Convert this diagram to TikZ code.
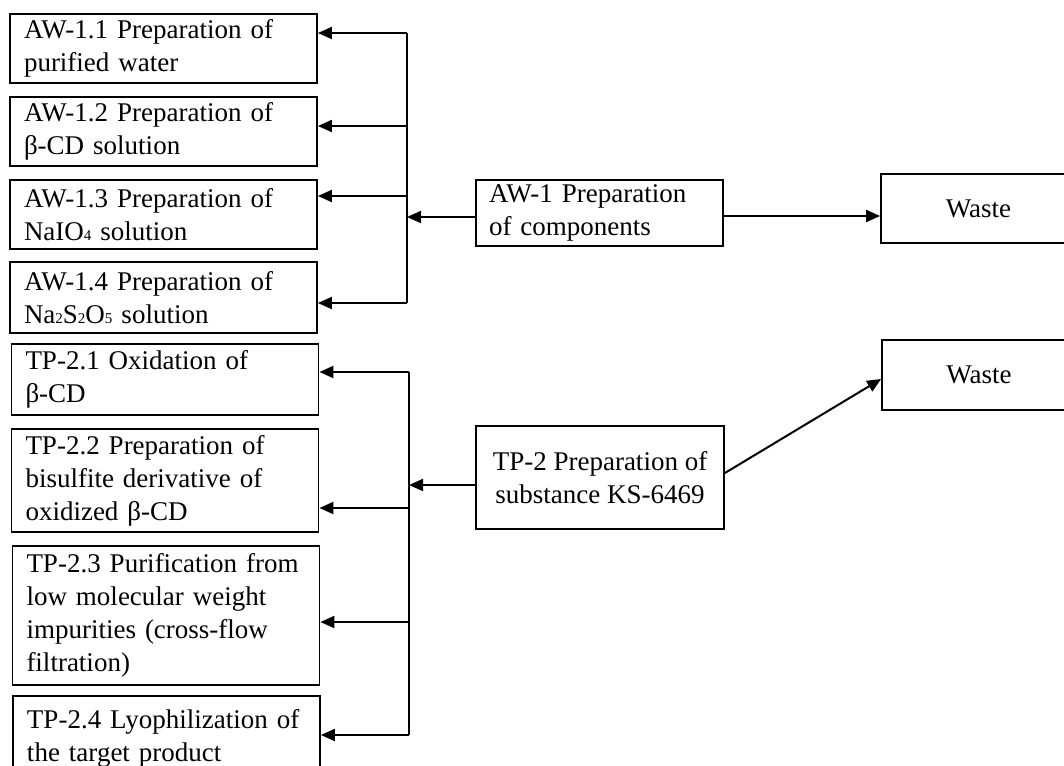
\documentclass[tikz,border=0pt]{standalone}
\usepackage{fontspec}
\setmainfont{Liberation Serif}
\usetikzlibrary{arrows.meta,calc}
\newcommand{\sbs}[1]{{\fontsize{15}{15}\selectfont #1}}
\begin{document}
\begin{tikzpicture}[x=1pt,y=-1pt,
  every node/.style={font=\fontsize{27}{33}\selectfont},
  lbox/.style={draw,line width=1.8pt,rectangle,inner xsep=14pt,inner ysep=2pt,text width=279pt,align=left},
  cbox/.style={draw,line width=1.8pt,rectangle,inner sep=2pt},
  arr/.style={line width=2pt,-{Triangle[length=14pt,width=12pt]}},
  ln/.style={line width=2pt}]
\useasboundingbox (0,0) rectangle (1064,765);
\clip (0,0) rectangle (1064,765);
\fill[white] (0,0) rectangle (1064,765);
% left boxes
\node[lbox,minimum height=69pt] (a11) at (163.5,48.5) {AW-1.1 Preparation of\\purified water};
\node[lbox,minimum height=69pt] (a12) at (163.5,131.5) {AW-1.2 Preparation of\\β-CD solution};
\node[lbox,minimum height=69pt] (a13) at (163.5,214.5) {AW-1.3 Preparation of\\NaIO\sbs{4} solution};
\node[lbox,minimum height=71pt] (a14) at (163.5,297.5) {AW-1.4 Preparation of\\Na\sbs{2}S\sbs{2}O\sbs{5} solution};
\node[lbox,minimum height=71pt] (t21) at (165,379.5) {TP-2.1 Oxidation of\\β-CD};
\node[lbox,minimum height=103pt] (t22) at (165,480.5) {TP-2.2 Preparation of\\bisulfite derivative of\\oxidized β-CD};
\node[lbox,minimum height=139pt] (t23) at (166,615.5) {TP-2.3 Purification from\\low molecular weight\\impurities (cross-flow\\filtration)};
\node[lbox,minimum height=84pt] (t24) at (166.5,738) {TP-2.4 Lyophilization of\\the target product};
% middle boxes
\node[cbox,inner xsep=13pt,text width=221pt,align=left,minimum height=66pt] (aw1) at (599.5,213) {AW-1 Preparation\\of components};
\node[cbox,align=center,minimum width=248pt,minimum height=103pt] (tp2) at (600,477.5) {TP-2 Preparation of\\substance KS-6469};
% waste boxes
\node[cbox,minimum width=195pt,minimum height=69pt] (w1) at (978.5,208.5) {Waste};
\node[cbox,minimum width=194pt,minimum height=70pt] (w2) at (979,375) {Waste};
% AW spine
\coordinate (p11) at (407,33);
\coordinate (p12) at (407,126);
\coordinate (p13) at (407,196);
\coordinate (p14) at (407,303);
\coordinate (pA) at (407,217);
\draw[ln] (p11) -- (p14);
\draw[arr] (p11) -- (p11 -| a11.east);
\draw[arr] (p12) -- (p12 -| a12.east);
\draw[arr] (p13) -- (p13 -| a13.east);
\draw[arr] (p14) -- (p14 -| a14.east);
\draw[arr] (pA -| aw1.west) -- (pA);
\coordinate (qA) at (800,216);
\draw[arr] (qA -| aw1.east) -- (qA -| w1.west);
% TP spine
\coordinate (p21) at (409,372);
\coordinate (p22) at (409,508);
\coordinate (p23) at (409,622);
\coordinate (p24) at (409,735);
\coordinate (pB) at (409,485);
\draw[ln] (p21) -- (p24);
\draw[arr] (p21) -- (p21 -| t21.east);
\draw[arr] (p22) -- (p22 -| t22.east);
\draw[arr] (p23) -- (p23 -| t23.east);
\draw[arr] (p24) -- (p24 -| t24.east);
\draw[arr] (pB -| tp2.west) -- (pB);
\draw[arr] ([yshift=4.5pt]tp2.east) -- ([yshift=-4pt]w2.west);
\end{tikzpicture}
\end{document}
